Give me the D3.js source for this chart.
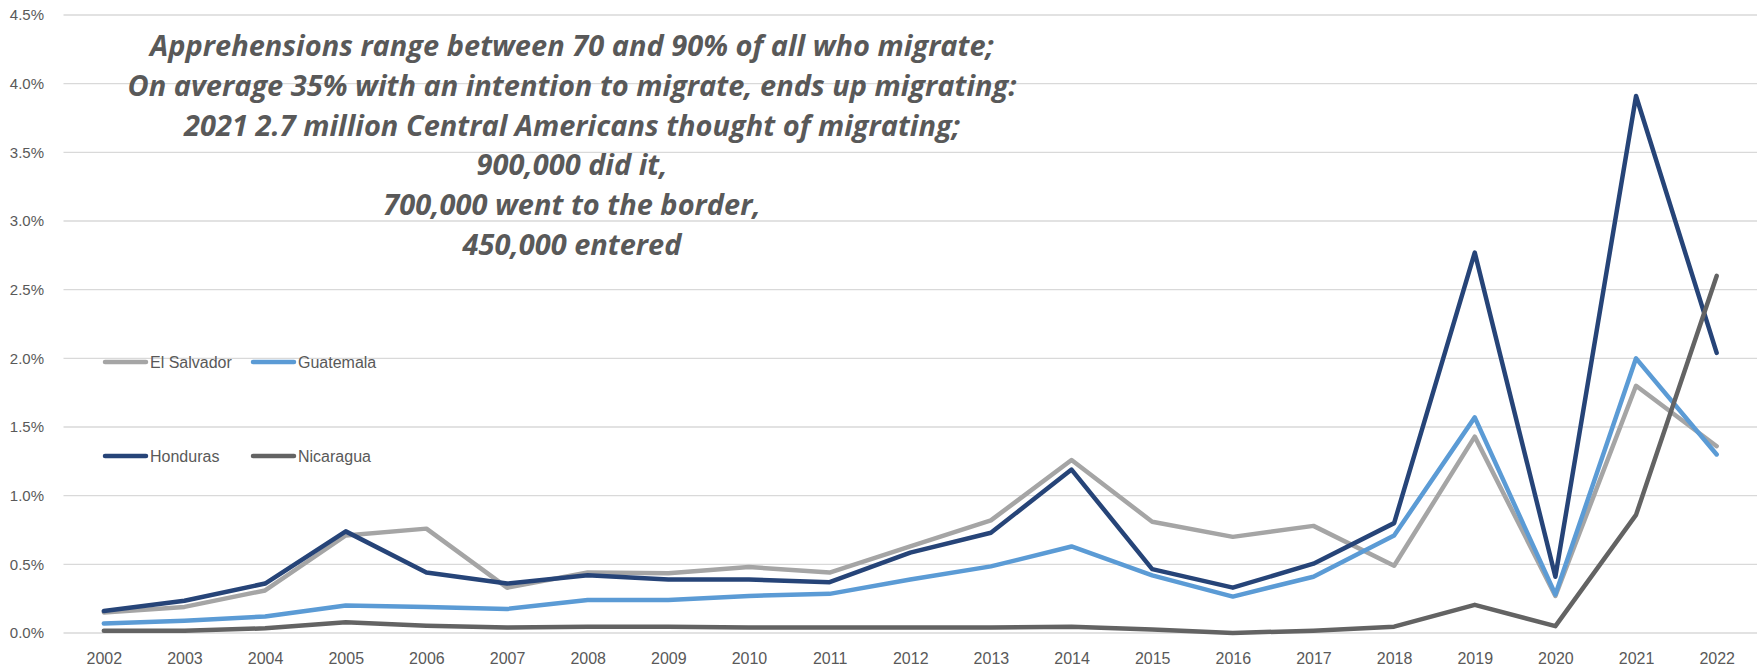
<!DOCTYPE html>
<html>
<head>
<meta charset="utf-8">
<script src="https://cdn.jsdelivr.net/npm/d3@7"></script>
<style>
  html, body { margin: 0; padding: 0; background: #ffffff; }
  svg { display: block; }
</style>
</head>
<body>
<svg id="chart" width="1762" height="669"></svg>
<script>
// Apprehended migrants as a share of population, by country (%)
const years = ["2002","2003","2004","2005","2006","2007","2008","2009","2010","2011","2012",
               "2013","2014","2015","2016","2017","2018","2019","2020","2021","2022"];

const elSalvador = [0.15, 0.19, 0.31, 0.71, 0.76, 0.33, 0.44, 0.435, 0.48, 0.44, 0.63,
                    0.82, 1.26, 0.81, 0.70, 0.78, 0.49, 1.43, 0.27, 1.80, 1.36];
const guatemala  = [0.07, 0.09, 0.12, 0.20, 0.19, 0.175, 0.24, 0.24, 0.27, 0.285, 0.39,
                    0.485, 0.63, 0.42, 0.265, 0.41, 0.71, 1.57, 0.28, 2.00, 1.30];
const honduras   = [0.16, 0.235, 0.36, 0.74, 0.44, 0.36, 0.42, 0.39, 0.39, 0.37, 0.585,
                    0.73, 1.19, 0.465, 0.33, 0.505, 0.80, 2.77, 0.41, 3.91, 2.04];
const nicaragua  = [0.017, 0.017, 0.034, 0.078, 0.053, 0.04, 0.046, 0.046, 0.04, 0.04, 0.04,
                    0.04, 0.046, 0.025, 0.0, 0.017, 0.046, 0.205, 0.05, 0.86, 2.60];

const seriesNames = ["El Salvador", "Guatemala", "Honduras", "Nicaragua"];
const seriesValues = [elSalvador, guatemala, honduras, nicaragua];
const seriesColors = ["#a5a5a5", "#5b9bd5", "#264478", "#636363"];

const yTicks = [0, 0.5, 1.0, 1.5, 2.0, 2.5, 3.0, 3.5, 4.0, 4.5];

const noteLines = [
  "Apprehensions range between 70 and 90% of all who migrate;",
  "On average 35% with an intention to migrate, ends up migrating:",
  "2021 2.7 million Central Americans thought of migrating;",
  "900,000 did it,",
  "700,000 went to the border,",
  "450,000 entered"
];

const svg = d3.select("#chart");
const textColor = "#595959";

const plotLeft = 63.5, plotRight = 1757, plotTop = 15, plotBottom = 633;

const x = d3.scalePoint().domain(years).range([plotLeft, plotRight]).padding(0.5);
const y = d3.scaleLinear().domain([0, 4.5]).range([plotBottom, plotTop]);

// Horizontal gridlines
svg.append("g")
  .selectAll("line")
  .data(yTicks)
  .join("line")
  .attr("x1", plotLeft).attr("x2", plotRight)
  .attr("y1", d => y(d)).attr("y2", d => y(d))
  .attr("stroke", "#d9d9d9")
  .attr("stroke-width", 1.3);

// Y axis labels
const yAxis = d3.axisLeft(y).tickValues(yTicks)
  .tickFormat(d => d3.format(".1f")(d) + "%")
  .tickSize(0).tickPadding(0);
const yG = svg.append("g").attr("transform", "translate(44,0)").call(yAxis);
yG.select(".domain").remove();
yG.selectAll("text")
  .attr("fill", textColor)
  .style("font-family", "'Liberation Sans', Arial, sans-serif")
  .style("font-size", "15px");

// X axis labels
const xAxis = d3.axisBottom(x).tickSize(0).tickPadding(0);
const xG = svg.append("g").attr("transform", `translate(0,${plotBottom})`).call(xAxis);
xG.select(".domain").remove();
xG.selectAll("text")
  .attr("dy", null)
  .attr("y", 31)
  .attr("fill", textColor)
  .style("font-family", "'Liberation Sans', Arial, sans-serif")
  .style("font-size", "16px");

// Series lines
const line = d3.line()
  .x((d, i) => x(years[i]))
  .y(d => y(d));

svg.append("g")
  .selectAll("path")
  .data(seriesValues)
  .join("path")
  .attr("d", d => line(d))
  .attr("fill", "none")
  .attr("stroke", (d, i) => seriesColors[i])
  .attr("stroke-width", 4.5)
  .attr("stroke-linejoin", "round")
  .attr("stroke-linecap", "round");

// Legend (two rows of two)
const legendItems = seriesNames.map((name, i) => ({
  name, color: seriesColors[i],
  x: i % 2 === 0 ? 105 : 253,
  y: i < 2 ? 362 : 456
}));
const leg = svg.append("g")
  .selectAll("g")
  .data(legendItems)
  .join("g")
  .attr("transform", d => `translate(${d.x},${d.y})`);
leg.append("line")
  .attr("x1", 0).attr("x2", 41)
  .attr("stroke", d => d.color)
  .attr("stroke-width", 4.5)
  .attr("stroke-linecap", "round");
leg.append("text")
  .attr("x", 45)
  .attr("dy", "0.35em")
  .attr("fill", textColor)
  .style("font-family", "'Liberation Sans', Arial, sans-serif")
  .style("font-size", "16px")
  .text(d => d.name);

// Annotation block
const note = svg.append("g");
const noteText = note.selectAll("text")
  .data(noteLines)
  .join("text")
  .attr("x", 0)
  .attr("y", (d, i) => 56 + i * 39.8)
  .attr("text-anchor", "middle")
  .attr("fill", textColor)
  .style("font-family", "'Open Sans', sans-serif")
  .style("font-weight", "700")
  .style("font-style", "italic")
  .style("font-size", "28px")
  .text(d => d);

// Condense the block horizontally so the widest line spans its space
const widest = d3.max(noteText.nodes(), n => n.getComputedTextLength());
const k = 889 / widest;
note.attr("transform", `translate(572,0) scale(${k},1)`);
</script>
</body>
</html>
